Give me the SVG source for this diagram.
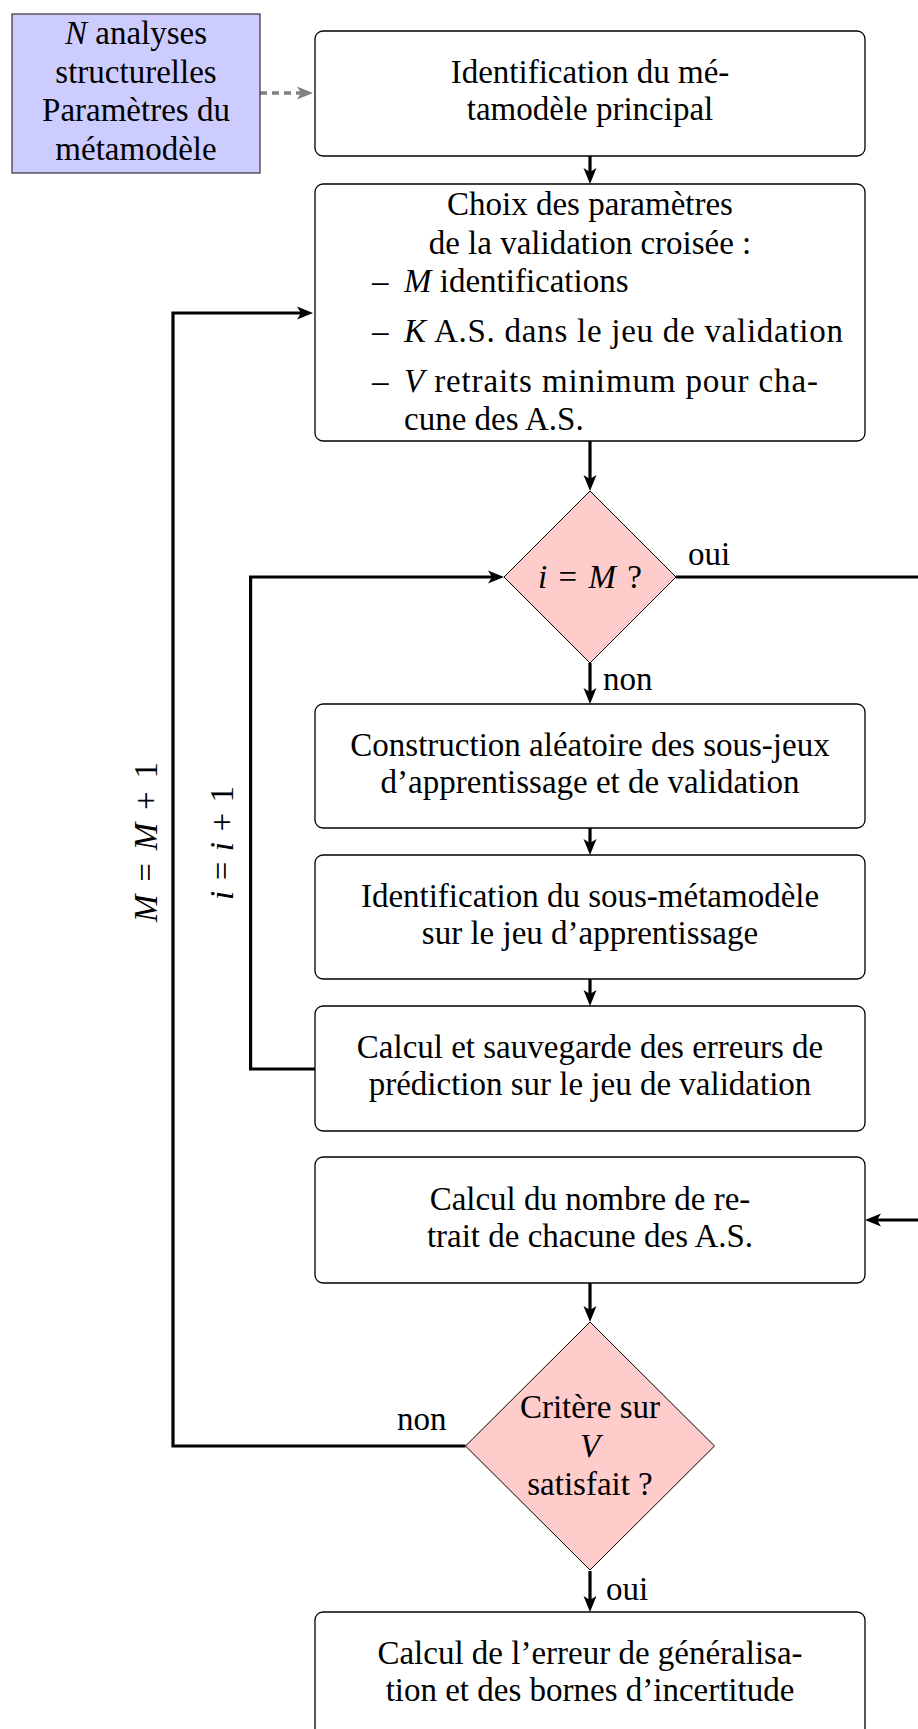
<svg xmlns="http://www.w3.org/2000/svg" width="918" height="1729" viewBox="0 0 918 1729">
<style>
text{font-family:"Liberation Serif","Times New Roman","DejaVu Serif",serif;font-size:33px;fill:#000}
.c{text-anchor:middle}
.it{font-style:italic}
.box{fill:#fff;stroke:#000;stroke-width:1.3}
.dia{fill:#ffcccc;stroke:#000;stroke-width:1}
.data{fill:#ccccff;stroke:#333;stroke-width:1.2}
.con{fill:none;stroke:#000;stroke-width:3.2;stroke-linejoin:miter}
.arr{marker-end:url(#ah)}
.dash{fill:none;stroke:#808080;stroke-width:3.3;stroke-dasharray:7 5;marker-end:url(#ahg)}
</style>
<defs>
<marker id="ah" markerUnits="userSpaceOnUse" orient="auto" refX="0" refY="0" markerWidth="40" markerHeight="40" viewBox="-20 -20 40 40" overflow="visible">
<path d="M8,0 L-8,-6.5 L-4,0 L-8,6.5 Z" fill="#000"/>
</marker>
<marker id="ahg" markerUnits="userSpaceOnUse" orient="auto" refX="0" refY="0" markerWidth="40" markerHeight="40" viewBox="-20 -20 40 40" overflow="visible">
<path d="M8,0 L-8,-6.5 L-4,0 L-8,6.5 Z" fill="#808080"/>
</marker>
</defs>

<g id="connectors">
<path class="dash" d="M260,93 L305,93"/>
<path class="con arr" d="M590,156 L590,176"/>
<path class="con arr" d="M590,441 L590,483"/>
<path class="con arr" d="M590,663 L590,696"/>
<path class="con arr" d="M590,828 L590,847"/>
<path class="con arr" d="M590,979 L590,998"/>
<path class="con arr" d="M590,1283 L590,1314"/>
<path class="con arr" d="M590,1571 L590,1604"/>
<path class="con arr" d="M315,1069 L250.6,1069 L250.6,577 L496,577"/>
<path class="con arr" d="M676,577 L935,577 L935,1220 L873,1220"/>
<path class="con arr" d="M465.5,1446 L173,1446 L173,313 L305,313"/>
<text x="688" y="565">oui</text>
<text x="603" y="690">non</text>
<text x="397" y="1430">non</text>
<text x="606" y="1600">oui</text>
<text class="c" transform="translate(157,842) rotate(-90)" textLength="160" lengthAdjust="spacing"><tspan class="it">M</tspan> = <tspan class="it">M</tspan> + 1</text>
<text class="c" transform="translate(233,843) rotate(-90)" textLength="114" lengthAdjust="spacing"><tspan class="it">i</tspan> = <tspan class="it">i</tspan> + 1</text>
</g>

<g id="data">
<rect class="data" x="12" y="14" width="248" height="159"/>
<text class="c" x="136" y="44"><tspan class="it">N</tspan> analyses</text>
<text class="c" x="136" y="82.5">structurelles</text>
<text class="c" x="136" y="121">Paramètres du</text>
<text class="c" x="136" y="159.5">métamodèle</text>
</g>

<g id="box1">
<rect class="box" x="315" y="31" width="550" height="125" rx="8"/>
<text class="c" x="590" y="83">Identification du mé-</text>
<text class="c" x="590" y="120">tamodèle principal</text>
</g>

<g id="box2">
<rect class="box" x="315" y="184" width="550" height="257" rx="8"/>
<text class="c" x="590" y="215">Choix des paramètres</text>
<text class="c" x="590" y="254">de la validation croisée :</text>
<text x="372" y="292">–</text><text x="404" y="292"><tspan class="it">M</tspan> identifications</text>
<text x="372" y="342">–</text><text x="404" y="342" textLength="439" lengthAdjust="spacing"><tspan class="it">K</tspan> A.S. dans le jeu de validation</text>
<text x="372" y="392">–</text><text x="404" y="392" textLength="414" lengthAdjust="spacing"><tspan class="it">V</tspan> retraits minimum pour cha-</text>
<text x="404" y="430">cune des A.S.</text>
</g>

<g id="dec1">
<polygon class="dia" points="590,491 676,577 590,663 504,577"/>
<text class="c" x="590" y="588" textLength="104" lengthAdjust="spacing"><tspan class="it">i</tspan> = <tspan class="it">M</tspan> ?</text>
</g>

<g id="box3">
<rect class="box" x="315" y="704" width="550" height="124" rx="8"/>
<text class="c" x="590" y="755.5">Construction aléatoire des sous-jeux</text>
<text class="c" x="590" y="792.5">d’apprentissage et de validation</text>
</g>

<g id="box4">
<rect class="box" x="315" y="855" width="550" height="124" rx="8"/>
<text class="c" x="590" y="906.5">Identification du sous-métamodèle</text>
<text class="c" x="590" y="943.5">sur le jeu d’apprentissage</text>
</g>

<g id="box5">
<rect class="box" x="315" y="1006" width="550" height="125" rx="8"/>
<text class="c" x="590" y="1058">Calcul et sauvegarde des erreurs de</text>
<text class="c" x="590" y="1095">prédiction sur le jeu de validation</text>
</g>

<g id="box6">
<rect class="box" x="315" y="1157" width="550" height="126" rx="8"/>
<text class="c" x="590" y="1210">Calcul du nombre de re-</text>
<text class="c" x="590" y="1247">trait de chacune des A.S.</text>
</g>

<g id="dec2">
<polygon class="dia" points="590,1322 714.5,1446 590,1570 465.5,1446"/>
<text class="c" x="590" y="1418">Critère sur</text>
<text class="c it" x="590" y="1457">V</text>
<text class="c" x="590" y="1495">satisfait ?</text>
</g>

<g id="box7">
<rect class="box" x="315" y="1612" width="550" height="125" rx="8"/>
<text class="c" x="590" y="1664">Calcul de l’erreur de généralisa-</text>
<text class="c" x="590" y="1701">tion et des bornes d’incertitude</text>
</g>
</svg>
